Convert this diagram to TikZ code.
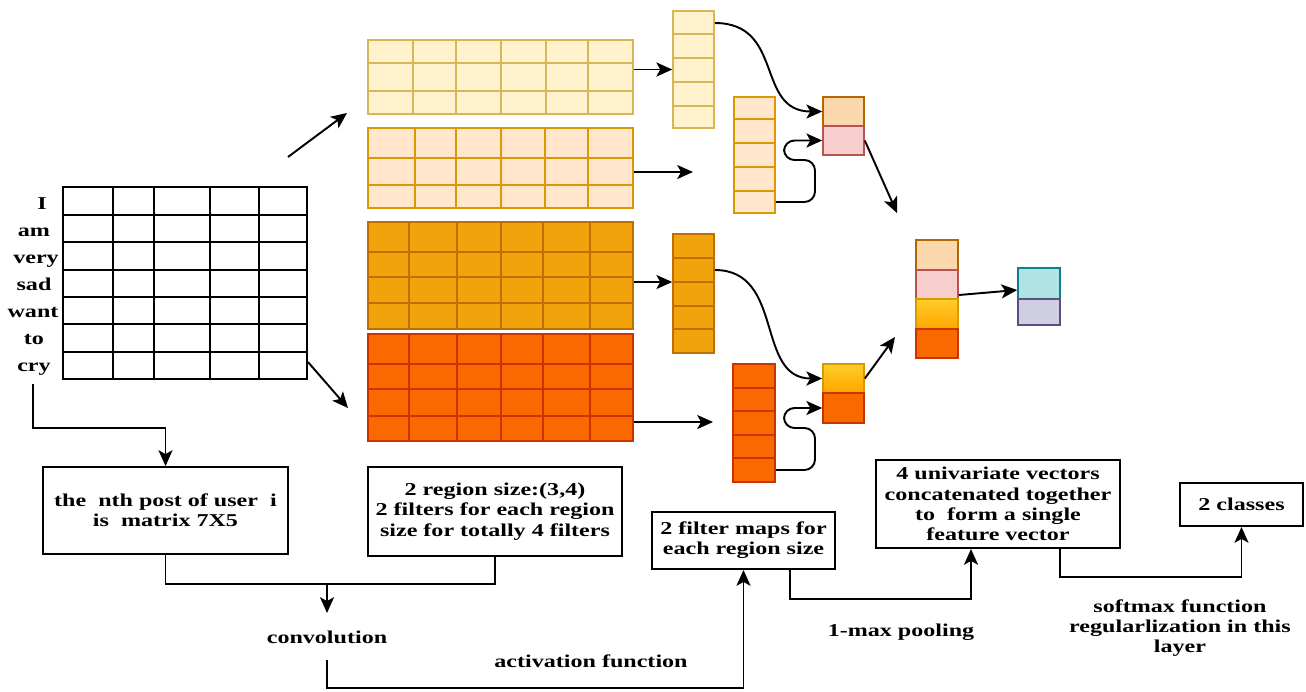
\documentclass[tikz,border=0pt]{standalone}
\usepackage{fontspec}
\setmainfont[FakeStretch=1.33]{Liberation Serif}
\usetikzlibrary{arrows.meta,fit}
\definecolor{yA}{HTML}{FFF2CC}\definecolor{yAd}{HTML}{D6B656}
\definecolor{oB}{HTML}{FFE6CC}\definecolor{oBd}{HTML}{D79B00}
\definecolor{oC}{HTML}{F0A30A}\definecolor{oCd}{HTML}{BD7000}
\definecolor{rD}{HTML}{FA6800}\definecolor{rDd}{HTML}{C73500}
\definecolor{pk}{HTML}{FAD7AC}\definecolor{pkd}{HTML}{B46504}
\definecolor{pr}{HTML}{F8CECC}\definecolor{prd}{HTML}{B85450}
\definecolor{gyA}{HTML}{FFCD28}\definecolor{gyB}{HTML}{FFA500}
\definecolor{tq}{HTML}{B0E3E6}\definecolor{tqd}{HTML}{0E8088}
\definecolor{pu}{HTML}{D0CEE2}\definecolor{pud}{HTML}{56517E}
\begin{document}
\begin{tikzpicture}[x=0.02cm,y=-0.02cm,
  lbl/.style={font=\bfseries\fontsize{10.3}{11.5}\selectfont, align=center, inner sep=0pt},
  box/.style={lbl, draw, line width=1.1pt, inner sep=0pt},
  cellbox/.style={inner sep=0pt, line width=0.9pt},
  cellline/.style={line width=0.9pt},
  arr/.style={-{Stealth[length=9pt,width=8pt,inset=2.2pt]}, line width=1.1pt},
  ln/.style={line width=1.1pt}]
\fill[white] (0,0) rectangle (1306,691);
\useasboundingbox (0,0) rectangle (1306,691);

% input matrix
\node[cellbox, fit={(63,187)(307,379)}, draw=black, line width=1.1pt] (mat) {};
\foreach \x in {113,154,210,259} \draw[line width=1.1pt] (\x,187) -- (\x,379);
\foreach \y in {215,242,270,297,324,352} \draw[line width=1.1pt] (63,\y) -- (307,\y);
\node[lbl, anchor=base] (w1) at (42,209) {I};
\node[lbl, anchor=base] (w2) at (34,236) {am};
\node[lbl, anchor=base] (w3) at (36,263) {very};
\node[lbl, anchor=base] (w4) at (34,290) {sad};
\node[lbl, anchor=base] (w5) at (33,317) {want};
\node[lbl, anchor=base] (w6) at (34,344) {to};
\node[lbl, anchor=base] (w7) at (34,371) {cry};

% filter grids
\node[cellbox, fit={(368,40)(633,114)}, fill=yA, draw=yAd] (gA) {};
\foreach \x in {413,456,501,546,588} \draw[cellline, yAd] (\x,40) -- (\x,114);
\foreach \y in {63,91} \draw[cellline, yAd] (368,\y) -- (633,\y);
\node[cellbox, fit={(368,128)(633,208)}, fill=oB, draw=oBd] (gB) {};
\foreach \x in {415,456,501,545,588} \draw[cellline, oBd] (\x,128) -- (\x,208);
\foreach \y in {158,185} \draw[cellline, oBd] (368,\y) -- (633,\y);
\node[cellbox, fit={(368,222)(633,329)}, fill=oC, draw=oCd] (gC) {};
\foreach \x in {409,457,501,543,590} \draw[cellline, oCd] (\x,222) -- (\x,329);
\foreach \y in {252,277,303} \draw[cellline, oCd] (368,\y) -- (633,\y);
\node[cellbox, fit={(368,334)(633,441)}, fill=rD, draw=rDd] (gD) {};
\foreach \x in {409,457,501,543,590} \draw[cellline, rDd] (\x,334) -- (\x,441);
\foreach \y in {364,389,416} \draw[cellline, rDd] (368,\y) -- (633,\y);

% feature map vectors
\node[cellbox, fit={(673,11)(714,128)}, fill=yA, draw=yAd] (vA) {};
\foreach \y in {34,58,82,106} \draw[cellline, yAd] (673,\y) -- (714,\y);
\node[cellbox, fit={(734,97)(775,213)}, fill=oB, draw=oBd] (vB) {};
\foreach \y in {119,143,167,191} \draw[cellline, oBd] (734,\y) -- (775,\y);
\node[cellbox, fit={(673,234)(714,353)}, fill=oC, draw=oCd] (vC) {};
\foreach \y in {258,282,306,329} \draw[cellline, oCd] (673,\y) -- (714,\y);
\node[cellbox, fit={(733,364)(775,482)}, fill=rD, draw=rDd] (vD) {};
\foreach \y in {388,411,435,458} \draw[cellline, rDd] (733,\y) -- (775,\y);

% pooled pairs
\node[cellbox, fit={(823,97)(864,126)}, fill=pk, draw=pkd] (p1a) {};
\node[cellbox, fit={(823,126)(864,155)}, fill=pr, draw=prd] (p1b) {};
\node[cellbox, fit={(823,364)(864,393)}, top color=gyA, bottom color=gyB, draw=oBd] (p2a) {};
\node[cellbox, fit={(823,393)(864,423)}, fill=rD, draw=rDd] (p2b) {};

% concatenated vector
\node[cellbox, fit={(916,240)(958,270)}, fill=pk, draw=pkd] (c1) {};
\node[cellbox, fit={(916,270)(958,299)}, fill=pr, draw=prd] (c2) {};
\node[cellbox, fit={(916,299)(958,329)}, top color=gyA, bottom color=gyB, draw=oBd] (c3) {};
\node[cellbox, fit={(916,329)(958,358)}, fill=rD, draw=rDd] (c4) {};

% output
\node[cellbox, fit={(1018,268)(1060,299)}, fill=tq, draw=tqd] (o1) {};
\node[cellbox, fit={(1018,299)(1060,325)}, fill=pu, draw=pud] (o2) {};

% text boxes
\node[box, minimum width=4.9cm, minimum height=1.74cm] (B1) at (165.5,510.5) {the\ \ nth post of user\ \ i\\is\ \ matrix 7X5};
\node[box, minimum width=5.08cm, minimum height=1.78cm] (B2) at (495,511.5) {2 region size:(3,4)\\2 filters for each region\\size for totally 4 filters};
\node[box, minimum width=3.66cm, minimum height=1.14cm] (B3) at (743.5,540.5) {2 filter maps for\\each region size};
\node[box, minimum width=4.88cm, minimum height=1.76cm] (B4) at (998,504) {4 univariate vectors\\concatenated together\\to\ \ form a single\\feature vector};
\node[box, minimum width=2.46cm, minimum height=0.86cm] (B5) at (1241.5,504.5) {2 classes};

% free labels
\node[lbl] (conv) at (327,637) {convolution};
\node[lbl] (act) at (591,661) {activation function};
\node[lbl] (pool) at (901,632) {1-max pooling};
\node[lbl] (soft) at (1180,628) {softmax function\\regularlization in this\\layer};

% coordinates
\coordinate (ua0) at (288,157); \coordinate (ua1) at (347,113);
\coordinate (la0) at (308,362); \coordinate (la1) at (348,408);
\coordinate (bEnd) at (693,172);
\coordinate (cY) at (0,282);
\coordinate (cY2) at (0,270);
\coordinate (dEnd) at (713,422);
\coordinate (yA1) at (0,23);
\coordinate (yB1) at (0,202);
\coordinate (yD1) at (0,470);
\coordinate (p1out) at (897,213);
\coordinate (p2out) at (895,337);
\coordinate (cOut) at (0,295);
\coordinate (oIn) at (0,290);
\coordinate (m0) at (33,384);
\coordinate (cj) at (327,584);
\coordinate (convtop) at (327,613);
\coordinate (convbot) at (327,660);
\coordinate (x790) at (790,0);
\coordinate (x971) at (971,0);
\coordinate (x1060) at (1060,0);

% connectors
\draw[arr] (ua0) -- (ua1);
\draw[arr] (mat.east |- la0) -- (la1);
\draw[arr] (gA.east |- vA.west) -- (vA.west);
\draw[arr] (gB.east |- bEnd) -- (bEnd);
\draw[arr] (gC.east |- cY) -- (vC.west |- cY);
\draw[arr] (gD.east |- dEnd) -- (dEnd);

\draw[arr] (vA.east |- yA1) .. controls (785,23) and (755,111.5) .. (p1a.west);
\draw[arr, rounded corners=6pt] (vB.east |- yB1) -- (815,202) -- (815,160) -- (784,160) -- (784,140.5) -- (p1b.west);
\draw[arr] (vC.east |- cY2) .. controls (785,270) and (755,378.5) .. (p2a.west);
\draw[arr, rounded corners=6pt] (vD.east |- yD1) -- (815,470) -- (815,428) -- (784,428) -- (784,408) -- (p2b.west);
\draw[arr] (p1b.east) -- (p1out);
\draw[arr] (p2a.east) -- (p2out);
\draw[arr] (c2.east |- cOut) -- (o1.west |- oIn);

\draw[arr] (m0) -- (33,428) -| (B1.north);
\draw[ln] (B1.south) |- (cj) -| (B2.south);
\draw[arr] (cj) -- (convtop);
\draw[arr] (convbot) -- (327,688) -| (B3.south);
\draw[arr] (B3.south -| x790) -- (790,599) -| (B4.south -| x971);
\draw[arr] (B4.south -| x1060) -- (1060,577) -| (B5.south);
\end{tikzpicture}
\end{document}
